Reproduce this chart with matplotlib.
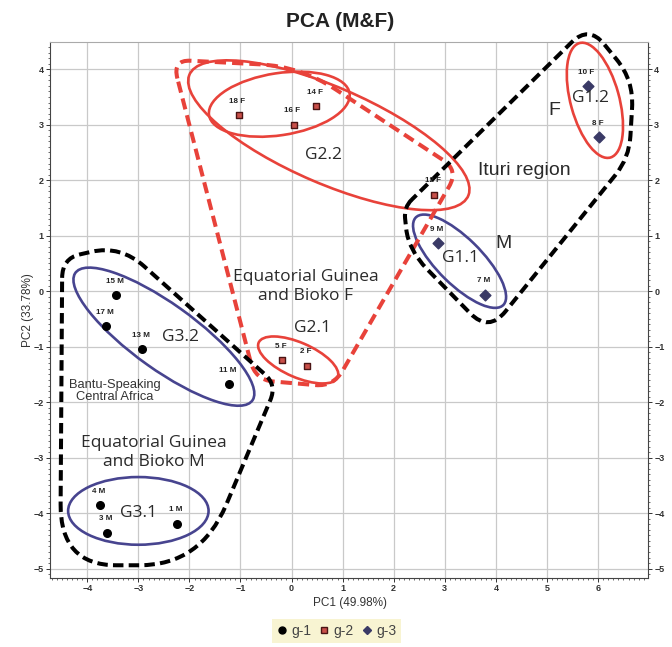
import numpy as np
import matplotlib
matplotlib.use("Agg")
import matplotlib.pyplot as plt
from matplotlib.patches import Ellipse, PathPatch
from matplotlib.path import Path
from matplotlib.lines import Line2D
from matplotlib.ticker import MultipleLocator

plt.rcParams['font.family'] = ['Liberation Sans', 'DejaVu Sans']

# PCA scores, one set per group
g1_labels = ['15 M', '17 M', '13 M', '11 M', '4 M', '3 M', '1 M']
g1_pc1 = [-3.43, -3.63, -2.92, -1.22, -3.76, -3.62, -2.24]
g1_pc2 = [-0.07, -0.63, -1.05, -1.68, -3.86, -4.35, -4.19]

g2_labels = ['18 F', '16 F', '14 F', '5 F', '2 F', '12 F']
g2_pc1 = [-1.03, 0.04, 0.48, -0.18, 0.31, 2.79]
g2_pc2 = [3.17, 3.00, 3.33, -1.24, -1.34, 1.74]

g3_labels = ['9 M', '7 M', '10 F', '8 F']
g3_pc1 = [2.87, 3.79, 5.80, 6.03]
g3_pc2 = [0.86, -0.06, 3.69, 2.77]

# cluster ellipses: name, centre, width, height, angle
clusters = ['G3.2', 'G3.1', 'G1.1', 'G1.2', 'G2.2', 'G2.2 outer', 'G2.1']
cl_x = [-2.50, -3.00, 3.29, 5.94, -0.24, 0.73, 0.13]
cl_y = [-0.82, -3.96, 0.54, 3.44, 3.37, 2.81, -1.24]
cl_w = [4.16, 2.75, 2.33, 2.15, 2.78, 5.88, 1.67]
cl_h = [1.20, 1.22, 0.85, 0.95, 1.12, 1.75, 0.63]
cl_angle = [-33.2, 0.0, -42.0, -73.2, 7.9, -21.5, -21.5]
cl_color = ['#47448f', '#47448f', '#47448f', '#e8423a', '#e8423a', '#e8423a', '#e8423a']

# region outlines (corner points and corner rounding)
bantu_x = [-4.49, -3.35, -0.29, -1.78, -4.53]
bantu_y = [0.59, 0.83, -1.69, -4.94, -4.94]
bantu_r = [0.35, 0.6, 0.3, 1.2, 1.1]

ituri_x = [2.20, 2.29, 3.86, 6.61, 6.70, 5.82]
ituri_y = [1.51, 0.74, -0.74, 2.40, 3.80, 4.79]
ituri_r = [0.2, 0.5, 0.5, 0.4, 0.5, 0.45]

eqf_x = [-2.33, 0.18, 3.27, 0.82, -0.71]
eqf_y = [4.17, 4.05, 2.18, -1.72, -1.60]
eqf_r = [0.35, 0.8, 0.35, 0.35, 0.35]


def rounded_outline(xs, ys, radii):
    pts = np.column_stack([xs, ys])
    n = len(pts)
    verts, codes = [], []
    for i in range(n):
        p = pts[i]
        d1 = pts[i - 1] - p
        d2 = pts[(i + 1) % n] - p
        l1, l2 = np.hypot(*d1), np.hypot(*d2)
        a = p + d1 / l1 * min(radii[i], l1 / 2)
        b = p + d2 / l2 * min(radii[i], l2 / 2)
        verts.append(a)
        codes.append(Path.MOVETO if i == 0 else Path.LINETO)
        verts += [p, b]
        codes += [Path.CURVE3, Path.CURVE3]
    verts.append(verts[0])
    codes.append(Path.LINETO)
    return Path(verts, codes)


fig = plt.figure(figsize=(6.72, 6.47), dpi=100)
ax = fig.add_axes([0.0744, 0.1066, 0.8899, 0.8284])
ax.set_xlim(-4.73, 6.98)
ax.set_ylim(-5.17, 4.49)

ax.xaxis.set_major_locator(MultipleLocator(1))
ax.yaxis.set_major_locator(MultipleLocator(1))
ax.xaxis.set_minor_locator(MultipleLocator(0.1))
ax.yaxis.set_minor_locator(MultipleLocator(0.1))
ax.grid(True, which='major', color='#c9c9c9', lw=0.9)
ax.set_axisbelow(True)
ax.tick_params(which='both', direction='out', right=True, top=False,
               labelright=True, colors='#333333')
ax.tick_params(which='major', length=3, width=0.7, labelsize=6.5, pad=1.5)
ax.tick_params(which='minor', length=1.5, width=0.5)
for side in ['left', 'right', 'bottom']:
    ax.spines[side].set_color('#444444')
    ax.spines[side].set_linewidth(0.8)
ax.spines['top'].set_color('#aaaaaa')
ax.spines['top'].set_linewidth(0.8)

# cluster ellipses
for i in range(len(clusters)):
    ax.add_patch(Ellipse((cl_x[i], cl_y[i]), cl_w[i], cl_h[i], angle=cl_angle[i],
                         fill=False, ec=cl_color[i], lw=1.9, zorder=3, clip_on=False))

# dashed region outlines
ax.add_patch(PathPatch(rounded_outline(eqf_x, eqf_y, eqf_r), fill=False,
                       ec='#e8423a', lw=2.9, ls=(0, (2.8, 1.5)), zorder=4, clip_on=False))
ax.add_patch(PathPatch(rounded_outline(bantu_x, bantu_y, bantu_r), fill=False,
                       ec='black', lw=2.9, ls=(0, (2.6, 1.3)), zorder=4, clip_on=False))
ax.add_patch(PathPatch(rounded_outline(ituri_x, ituri_y, ituri_r), fill=False,
                       ec='black', lw=2.9, ls=(0, (2.6, 1.3)), zorder=4, clip_on=False))

# points
ax.scatter(g1_pc1, g1_pc2, s=30, marker='o', c='black', zorder=6)
ax.scatter(g2_pc1, g2_pc2, s=24, marker='s', c='#c9504a', edgecolors='#4a1414',
           linewidths=1.0, zorder=6)
ax.scatter(g3_pc1, g3_pc2, s=30, marker='D', c='#3a3a66', zorder=6)

for labels, xs, ys in [(g1_labels, g1_pc1, g1_pc2), (g2_labels, g2_pc1, g2_pc2),
                       (g3_labels, g3_pc1, g3_pc2)]:
    for t, x, y in zip(labels, xs, ys):
        ax.annotate(t, (x, y), xytext=(-1, 10), textcoords='offset points',
                    ha='center', va='center', fontsize=5.8, fontweight='bold',
                    color='#222222', zorder=7)

# group names
gfont = dict(family=['Open Sans', 'DejaVu Sans'], fontsize=12.5, color='#2a2a2a',
             ha='center', va='center', zorder=8)
ax.text(-2.18, -0.83, 'G3.2', **gfont)
ax.text(-3.00, -4.00, 'G3.1', **gfont)
ax.text(0.41, -0.67, 'G2.1', **gfont)
ax.text(0.63, 2.45, 'G2.2', **gfont)
ax.text(3.31, 0.59, 'G1.1', **gfont)
ax.text(5.86, 3.48, 'G1.2', **gfont)
ax.text(-2.69, -2.90, 'Equatorial Guinea\nand Bioko M', linespacing=1.25, **gfont)
ax.text(0.27, 0.09, 'Equatorial Guinea\nand Bioko F', linespacing=1.25, **gfont)

afont = dict(fontsize=14, color='#2a2a2a', ha='center', va='center', zorder=8)
ax.text(4.55, 2.18, 'Ituri region', **afont)
ax.text(5.14, 3.26, 'F', **afont)
ax.text(4.16, 0.86, 'M', **afont)
ax.text(-3.47, -1.80, 'Bantu-Speaking\nCentral Africa', fontsize=9.3, color='#333333',
        ha='center', va='center', linespacing=1.05, zorder=8)

fig.text(0.506, 0.966, 'PCA (M&F)', fontsize=15, fontweight='bold', ha='center',
         va='center', color='#222222')
fig.text(0.521, 0.068, 'PC1 (49.98%)', fontsize=8.5, ha='center', va='center',
         color='#333333')
fig.text(0.042, 0.521, 'PC2 (33.78%)', fontsize=8.5, ha='center', va='center',
         rotation=90, color='#333333')

handles = [
    Line2D([], [], ls='none', marker='o', ms=5, color='black'),
    Line2D([], [], ls='none', marker='s', ms=4.5, mfc='#c9504a', mec='#4a1414'),
    Line2D([], [], ls='none', marker='D', ms=4.5, color='#3a3a66'),
]
fig.legend(handles, ['g-1', 'g-2', 'g-3'], loc='center', bbox_to_anchor=(0.501, 0.025),
           ncol=3, fontsize=10, frameon=True, facecolor='#f8f4d2', edgecolor='none',
           fancybox=False, framealpha=1, handlelength=0.7, handletextpad=0.3,
           columnspacing=0.6, borderpad=0.35, labelcolor='#444444')

# bold tick labels
fig.canvas.draw()
for lab in ax.get_xticklabels() + ax.get_yticklabels() + ax.yaxis.get_ticklabels():
    lab.set_fontweight('bold')
for t in ax.yaxis.get_major_ticks():
    t.label2.set_fontweight('bold')

fig.savefig('out.png', dpi=100)
